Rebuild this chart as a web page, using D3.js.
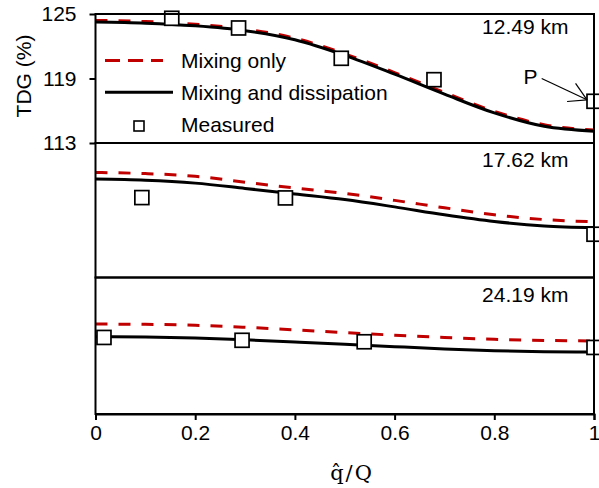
<!DOCTYPE html>
<html>
<head>
<meta charset="utf-8">
<script src="https://cdn.jsdelivr.net/npm/d3@7"></script>
<style>
  html, body { margin: 0; padding: 0; background: #fff; }
  svg { display: block; }
  text { font-family: "Liberation Sans", Arial, sans-serif; fill: #000; }
</style>
</head>
<body>
<svg id="chart" width="599" height="488"></svg>
<script>
// Model grid of relative flow (q̂/Q)
const qModel = [0, 0.1, 0.2, 0.3, 0.4, 0.5, 0.6, 0.7, 0.8, 0.9, 1.0];

// Panel labels (distance downstream)
const panelLabels = ["12.49 km", "17.62 km", "24.19 km"];

// TDG (%) – mixing only
const mixing1249 = [124.4, 124.3, 124.05, 123.6, 122.75, 121.3, 119.55, 117.7, 115.95, 114.7, 114.2];
const mixing1762 = [122.37, 122.27, 122.03, 121.5, 120.98, 120.5, 119.88, 119.22, 118.6, 118.17, 117.97];
const mixing2419 = [120.91, 120.88, 120.8, 120.62, 120.4, 120.15, 119.93, 119.73, 119.57, 119.47, 119.42];

// TDG (%) – mixing and dissipation
const dissip1249 = [124.25, 124.15, 123.9, 123.45, 122.6, 121.15, 119.4, 117.55, 115.8, 114.55, 114.1];
const dissip1762 = [121.78, 121.68, 121.42, 120.95, 120.45, 119.95, 119.3, 118.6, 118.0, 117.6, 117.45];
const dissip2419 = [119.8, 119.77, 119.68, 119.52, 119.33, 119.13, 118.92, 118.72, 118.57, 118.48, 118.45];

// Measured TDG (%)
const measQ1249 = [0.153, 0.287, 0.493, 0.679, 1.0];
const meas1249  = [124.6, 123.7, 120.88, 118.89, 116.88];
const measQ1762 = [0.093, 0.381, 1.0];
const meas1762  = [120.13, 120.1, 116.86];
const measQ2419 = [0.017, 0.294, 0.539, 1.0];
const meas2419  = [119.73, 119.48, 119.35, 118.85];

// Axis ticks
const xTicks = [0, 0.2, 0.4, 0.6, 0.8, 1];
const yTicks = [113, 119, 125];
const yDomain = [113, 125];

// Legend entries
const legendLabels = ["Mixing only", "Mixing and dissipation", "Measured"];

// Point marked "P"
const markLabel = "P";

const panels = [
  { label: panelLabels[0], mix: mixing1249, dis: dissip1249, mq: measQ1249, mv: meas1249 },
  { label: panelLabels[1], mix: mixing1762, dis: dissip1762, mq: measQ1762, mv: meas1762 },
  { label: panelLabels[2], mix: mixing2419, dis: dissip2419, mq: measQ2419, mv: meas2419 }
];

// ---- layout ----
const left = 95.5, right = 594;
const panelEdges = [14, 143, 277.5, 414];
const labelOffsets = [20, 24, 24.8];
const FS = 21;

const svg = d3.select("#chart");
const x = d3.scaleLinear().domain([0, 1]).range([left, right]);

const RED = "#C00000";

panels.forEach((p, i) => {
  const top = panelEdges[i], bottom = panelEdges[i + 1];
  const y = d3.scaleLinear().domain(yDomain).range([bottom, top]);
  p.y = y;
  const g = svg.append("g");

  const line = d3.line()
    .x((d, k) => x(qModel[k]))
    .y(d => y(d))
    .curve(d3.curveMonotoneX);

  g.append("path")
    .attr("d", line(p.mix))
    .attr("fill", "none")
    .attr("stroke", RED)
    .attr("stroke-width", 3)
    .attr("stroke-dasharray", "12,11");

  g.append("path")
    .attr("d", line(p.dis))
    .attr("fill", "none")
    .attr("stroke", "#000")
    .attr("stroke-width", 3);

  const s = 14;
  g.selectAll("rect.meas")
    .data(p.mv)
    .join("rect")
    .attr("class", "meas")
    .attr("x", (d, k) => x(p.mq[k]) - s / 2)
    .attr("y", d => y(d) - s / 2)
    .attr("width", s)
    .attr("height", s)
    .attr("fill", "#fff")
    .attr("stroke", "#000")
    .attr("stroke-width", 1.7);

  // panel frame
  g.append("rect")
    .attr("x", left)
    .attr("y", top)
    .attr("width", right - left)
    .attr("height", bottom - top)
    .attr("fill", "none")
    .attr("stroke", "#000")
    .attr("stroke-width", 2);

  g.append("text")
    .attr("x", 568.5)
    .attr("y", top + labelOffsets[i])
    .attr("text-anchor", "end")
    .attr("font-size", FS)
    .text(p.label);
});

// ---- axes ----
const xAxis = d3.axisBottom(x)
  .tickValues(xTicks)
  .tickSize(6)
  .tickPadding(5)
  .tickFormat(d3.format("~g"));
const gx = svg.append("g")
  .attr("transform", `translate(0,${panelEdges[3]})`)
  .call(xAxis);
gx.select(".domain").attr("stroke-width", 2);
gx.selectAll(".tick line").attr("stroke-width", 2);
gx.selectAll(".tick text")
  .attr("font-size", FS)
  .attr("font-family", "Liberation Sans, Arial, sans-serif");

const yAxis = d3.axisLeft(panels[0].y)
  .tickValues(yTicks)
  .tickSize(6)
  .tickPadding(13);
const gy = svg.append("g")
  .attr("transform", `translate(${left},0)`)
  .call(yAxis);
gy.select(".domain").remove();
gy.selectAll(".tick line").attr("stroke-width", 2);
gy.selectAll(".tick text")
  .attr("font-size", FS)
  .attr("font-family", "Liberation Sans, Arial, sans-serif");

// axis titles
svg.append("text")
  .attr("transform", "translate(31,76) rotate(-90)")
  .attr("text-anchor", "middle")
  .attr("font-size", 21)
  .text("TDG (%)");

svg.append("text")
  .attr("x", 352)
  .attr("y", 480)
  .attr("text-anchor", "middle")
  .attr("font-size", 21)
  .attr("letter-spacing", 2)
  .style("font-family", "'DejaVu Serif', 'Liberation Serif', serif")
  .text("q\u0302/Q");

// ---- legend ----
const lg = svg.append("g");
lg.append("line")
  .attr("x1", 105).attr("x2", 163).attr("y1", 60.5).attr("y2", 60.5)
  .attr("stroke", RED).attr("stroke-width", 3).attr("stroke-dasharray", "15,8");
lg.append("line")
  .attr("x1", 105).attr("x2", 173).attr("y1", 92.3).attr("y2", 92.3)
  .attr("stroke", "#000").attr("stroke-width", 3);
lg.append("rect")
  .attr("x", 134).attr("y", 121).attr("width", 10).attr("height", 10)
  .attr("fill", "#fff").attr("stroke", "#000").attr("stroke-width", 1.6);
[67.5, 99.7, 131.7].forEach((yy, i) => {
  lg.append("text")
    .attr("x", 181).attr("y", yy)
    .attr("font-size", FS)
    .text(legendLabels[i]);
});

// ---- "P" annotation pointing at the last measured point of the top panel ----
const py = panels[0].y;
const tip = [x(measQ1249[4]) - 7, py(meas1249[4]) - 1.5];
const start = [541.7, 78.5];
svg.append("text")
  .attr("x", 523.5).attr("y", 83.5)
  .attr("font-size", FS)
  .text(markLabel);
const ag = svg.append("g").attr("stroke", "#000").attr("stroke-width", 1.2).attr("fill", "none");
ag.append("line")
  .attr("x1", start[0]).attr("y1", start[1]).attr("x2", tip[0]).attr("y2", tip[1]);
const ang = Math.atan2(start[1] - tip[1], start[0] - tip[0]);
[-Math.PI / 6, Math.PI / 6].forEach(da => {
  ag.append("line")
    .attr("x1", tip[0]).attr("y1", tip[1])
    .attr("x2", tip[0] + 20 * Math.cos(ang + da))
    .attr("y2", tip[1] + 20 * Math.sin(ang + da));
});
</script>
</body>
</html>
